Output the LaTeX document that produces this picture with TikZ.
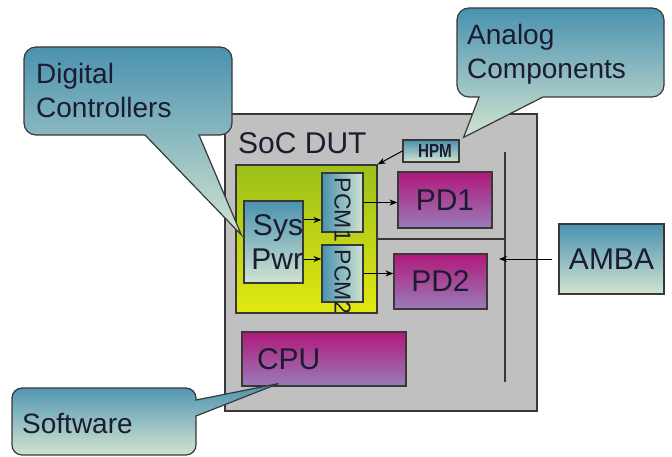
\documentclass[tikz,border=0pt]{standalone}
\usepackage{fontspec}
\setmainfont{Liberation Sans}
\usetikzlibrary{arrows.meta,calc}
\definecolor{txt}{HTML}{1C1C30}
\definecolor{edge}{HTML}{383838}
\definecolor{socgray}{HTML}{C0C0C0}
\definecolor{bluetop}{HTML}{4A92B0}
\definecolor{bluebot}{HTML}{D2E4D0}
\definecolor{pdtop}{HTML}{B0187C}
\definecolor{pdbot}{HTML}{9A7CB8}
\definecolor{greentop}{HTML}{9CC01C}
\definecolor{greenbot}{HTML}{E2E810}

\begin{document}
\begin{tikzpicture}[
  x=1pt, y=-1pt,
  >={Stealth[length=8pt,width=6pt]},
  blk/.style={rectangle, draw=edge, line width=1.2pt, inner sep=0pt, text=txt, font=\fontsize{30}{34}\selectfont},
  bluebox/.style={blk, top color=bluetop, bottom color=bluebot},
  pdbox/.style={blk, top color=pdtop, bottom color=pdbot},
  pcmbox/.style={blk, left color=bluetop, right color=bluebot, rotate=-90, font=\fontsize{23}{26}\selectfont},
  bubble/.style={draw=edge, line width=1.2pt, top color=bluetop, bottom color=bluebot},
  btxt/.style={inner sep=0pt, anchor=west, align=left, text=txt, font=\fontsize{28}{34}\selectfont},
  arr/.style={->, line width=1pt, color=black},
  bus/.style={line width=1.5pt, color=edge},
]

\useasboundingbox (0,0) rectangle (672,457);

% SoC and its blocks
\node[blk, fill=socgray, minimum width=312pt, minimum height=297pt] (soc) at (381,262.5) {};
\node[btxt, font=\fontsize{30}{34}\selectfont] (soctitle) at (238,143) {SoC DUT};
\node[blk, top color=greentop, bottom color=greenbot, minimum width=141pt, minimum height=148pt] (pwrdom) at (306.5,239) {};
\node[bluebox, minimum height=82pt, text width=59pt, align=right] (sys) at (273.5,242) {Sys\\Pwr};
\node[pcmbox, minimum width=59pt, minimum height=41pt] (pcma) at (342.5,202.5) {\makebox[59pt][l]{\hspace{5pt}PCM1}};
\node[pcmbox, minimum width=57pt, minimum height=41pt] (pcmb) at (342.5,273.5) {\makebox[57pt][l]{\hspace{5pt}PCM2}};
\node[pdbox, minimum width=94pt, minimum height=56pt] (pda) at (445,200) {PD1};
\node[pdbox, minimum width=93pt, minimum height=55pt] (pdb) at (440.5,281.5) {PD2};
\node[bluebox, minimum width=56pt, minimum height=22pt, font=\fontsize{19}{20}\selectfont\bfseries] (hpm) at (431,151) {\hspace{8pt}\scalebox{0.8}[1]{HPM}};
\node[pdbox, minimum height=54pt, text width=134pt, inner xsep=15pt, align=left] (cpu) at (324,359) {CPU};
\node[bluebox, minimum width=105pt, minimum height=70pt] (amba) at (611.5,259) {AMBA};

% bus
\coordinate (bustop) at (505,152);
\coordinate (busbot) at (505,382);
\draw[bus] (bustop) -- (busbot);
\draw[bus] (pwrdom.east) -- (pwrdom.east -| bustop);

\draw[arr] (hpm.west) -- (pwrdom.north east);
\draw[arr] ([yshift=22pt]sys.east) -- ([yshift=22pt]sys.east -| pcma.south);
\draw[arr] ([yshift=-17pt]sys.east) -- ([yshift=-17pt]sys.east -| pcmb.south);
\draw[arr] (pcma.north) -- (pcma.north -| pda.west);
\draw[arr] (pcmb.north) -- (pcmb.north -| pdb.west);
\draw[arr] ([xshift=-6pt]amba.west) -- ([xshift=-6pt]amba.west -| bustop);

% callouts
\coordinate (digitaltip) at ($(sys.west)+(-2,-7)$);
\coordinate (analogtip) at ($(hpm.north east)+(4,-2)$);
\coordinate (softtip) at ($(cpu.south west)+(37,-3)$);

\draw[bubble] (128,47) [rounded corners=12pt] -| (232,135) [sharp corners] -- (199,135) -- (digitaltip) -- (145,135) [rounded corners=12pt] -- (24,135) -- (24,47) -- cycle;
\node[btxt] (digital) at (36,90) {Digital\\Controllers};

\draw[bubble] (560,8) [rounded corners=12pt] -| (664,97) [sharp corners] -- (543,97) -- (analogtip) -- (479,97) [rounded corners=12pt] -- (457,97) -- (457,8) -- cycle;
\node[btxt] (analog) at (467,54) {Analog\\Components};

\draw[bubble] (104,388) [rounded corners=10pt] -- (196,388) [sharp corners] -- (196,400) -- (softtip) -- (196,416) [rounded corners=10pt] -- (196,455) -- (12,455) -- (12,388) -- cycle;
\node[btxt] (software) at (22,424) {Software};

\end{tikzpicture}
\end{document}
